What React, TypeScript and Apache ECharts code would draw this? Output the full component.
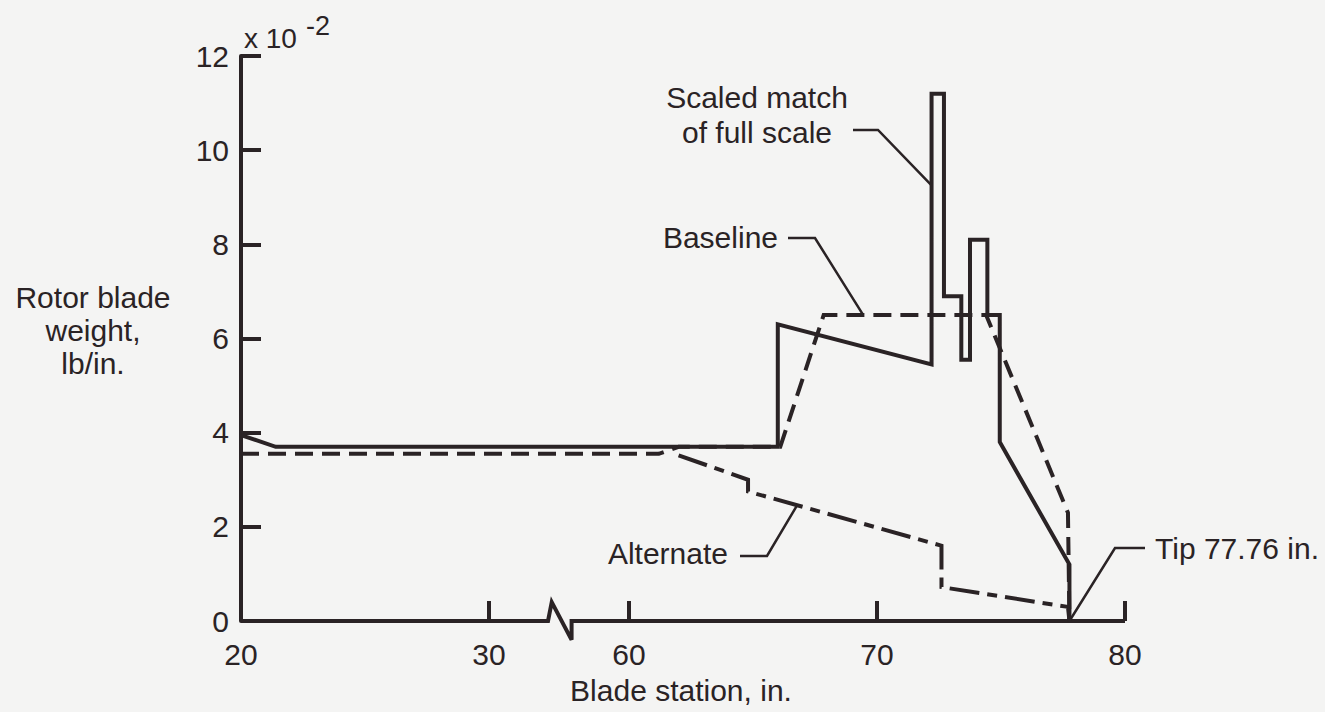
import { useEffect, useRef } from "react";
import * as echarts from "echarts";

// Blade station (in.) and rotor blade weight (x 10^-2 lb/in.) for each design.
const SCALED_STATION = [20, 21.4, 66.0, 66.0, 72.2, 72.2, 72.7, 72.7, 73.4, 73.4, 73.75, 73.75, 74.45, 74.45, 74.95, 74.95, 77.76, 77.76];
const SCALED_WEIGHT = [3.95, 3.7, 3.7, 6.3, 5.45, 11.2, 11.2, 6.9, 6.9, 5.55, 5.55, 8.1, 8.1, 6.5, 6.5, 3.8, 1.2, 0];

const BASELINE_STATION = [20, 61.2, 62.0, 66.1, 67.85, 74.4, 77.7, 77.76];
const BASELINE_WEIGHT = [3.55, 3.55, 3.7, 3.7, 6.5, 6.5, 2.3, 0];

const ALTERNATE_STATION = [20, 62.0, 64.8, 64.8, 72.6, 72.6, 77.7, 77.76];
const ALTERNATE_WEIGHT = [3.55, 3.52, 3.0, 2.75, 1.6, 0.72, 0.3, 0];

const X_TICK_STATIONS = [20, 30, 60, 70, 80];
const Y_MIN = 0;
const Y_MAX = 12;
const Y_STEP = 2;

// The station axis is broken between roughly 32.4 and 56.8 in.
const BREAK_SHIFT = 24.355;
const BREAK_LEFT = 32.38;
const BREAK_RIGHT = 33.33;
const X_AXIS_MAX = 55.645;

const toAxis = (x: number) => (x > 45 ? x - BREAK_SHIFT : x);
const fromAxis = (t: number) => (t > BREAK_RIGHT ? t + BREAK_SHIFT : t);
const pairs = (xs: number[], ys: number[]) => xs.map((x, i) => [toAxis(x), ys[i]]);

const INK = "#2a2325";
const FONT = "'Liberation Sans', Arial, Helvetica, sans-serif";

export default function App() {
  const ref = useRef<HTMLDivElement>(null);

  useEffect(() => {
    const chart = echarts.init(ref.current!, null, { renderer: "svg" });

    const lineSeries = (name: string, data: number[][], type: any, z = 3) => ({
      name,
      type: "line",
      data,
      symbol: "none",
      silent: true,
      clip: false,
      z,
      lineStyle: { color: INK, width: 4, type, cap: "butt", join: "miter" },
    });

    chart.setOption({
      animation: false,
      backgroundColor: "#f4f4f3",
      grid: { left: 241, right: 200, top: 56, bottom: 91 },
      xAxis: {
        type: "value",
        min: 20,
        max: X_AXIS_MAX,
        axisLine: { show: false },
        splitLine: { show: false },
        axisTick: {
          show: true,
          inside: true,
          length: 20,
          customValues: X_TICK_STATIONS.slice(1).map(toAxis),
          lineStyle: { color: INK, width: 4 },
        },
        axisLabel: {
          customValues: X_TICK_STATIONS.map(toAxis),
          formatter: (v: number) => String(Math.round(fromAxis(v))),
          color: INK,
          fontFamily: FONT,
          fontSize: 30,
          margin: 18,
        },
      },
      yAxis: {
        type: "value",
        min: Y_MIN,
        max: Y_MAX,
        interval: Y_STEP,
        splitLine: { show: false },
        axisLine: { show: true, lineStyle: { color: INK, width: 4 } },
        axisTick: { show: true, inside: true, length: 20, lineStyle: { color: INK, width: 4 } },
        axisLabel: { color: INK, fontFamily: FONT, fontSize: 30, margin: 12 },
      },
      series: [
        // station axis line with its break mark
        lineSeries(
          "axis",
          [
            [20, 0],
            [BREAK_LEFT, 0],
            [BREAK_LEFT + 0.15, 0.4],
            [BREAK_RIGHT, -0.4],
            [BREAK_RIGHT, 0],
            [X_AXIS_MAX, 0],
          ],
          "solid",
          2
        ),
        lineSeries("Baseline", pairs(BASELINE_STATION, BASELINE_WEIGHT), [18, 9], 3),
        // the run shared with the baseline (from 20 in.) is drawn once, by the baseline series
        lineSeries("Alternate", pairs(ALTERNATE_STATION, ALTERNATE_WEIGHT).slice(1), [30, 8, 10, 8], 3),
        lineSeries("Scaled match of full scale", pairs(SCALED_STATION, SCALED_WEIGHT), "solid", 4),
      ],
    });

    const p = (x: number, v: number) => chart.convertToPixel({ gridIndex: 0 }, [toAxis(x), v]) as number[];
    const textStyle = (extra: any) => ({ fill: INK, fontFamily: FONT, fontSize: 30, ...extra });
    const leader = (pts: number[][]) => ({
      type: "polyline",
      silent: true,
      shape: { points: pts },
      style: { stroke: INK, lineWidth: 2.5, fill: null },
    });

    const scaledTip = p(72.2, 9.25);
    const baseTip = p(69.44, 6.5);
    const altTip = p(66.77, 2.45);
    const tipEnd = p(77.76, 0);

    chart.setOption({
      graphic: [
        {
          type: "text",
          x: 93,
          y: 330,
          style: textStyle({ text: "Rotor blade\nweight,\nlb/in.", align: "center", verticalAlign: "middle", lineHeight: 33 }),
        },
        { type: "text", x: 244, y: 38, style: textStyle({ text: "x 10", fontSize: 28, verticalAlign: "middle" }) },
        { type: "text", x: 306, y: 26, style: textStyle({ text: "-2", fontSize: 27, verticalAlign: "middle" }) },
        {
          type: "text",
          x: 681,
          y: 690,
          style: textStyle({ text: "Blade station, in.", align: "center", verticalAlign: "middle" }),
        },
        {
          type: "text",
          x: 757,
          y: 115,
          style: textStyle({ text: "Scaled match\nof full scale", align: "center", verticalAlign: "middle", lineHeight: 35 }),
        },
        leader([[853, 130], [878, 130], scaledTip]),
        { type: "text", x: 778, y: 237, style: textStyle({ text: "Baseline", align: "right", verticalAlign: "middle" }) },
        leader([[788, 238], [815, 238], baseTip]),
        { type: "text", x: 728, y: 553, style: textStyle({ text: "Alternate", align: "right", verticalAlign: "middle" }) },
        leader([[740, 556], [767, 556], altTip]),
        { type: "text", x: 1155, y: 548, style: textStyle({ text: "Tip 77.76 in.", align: "left", verticalAlign: "middle" }) },
        leader([[1145, 548], [1115, 548], tipEnd]),
      ],
    });

    return () => chart.dispose();
  }, []);

  return <div ref={ref} style={{ position: "fixed", left: 0, top: 0, width: 1325, height: 712 }} />;
}
